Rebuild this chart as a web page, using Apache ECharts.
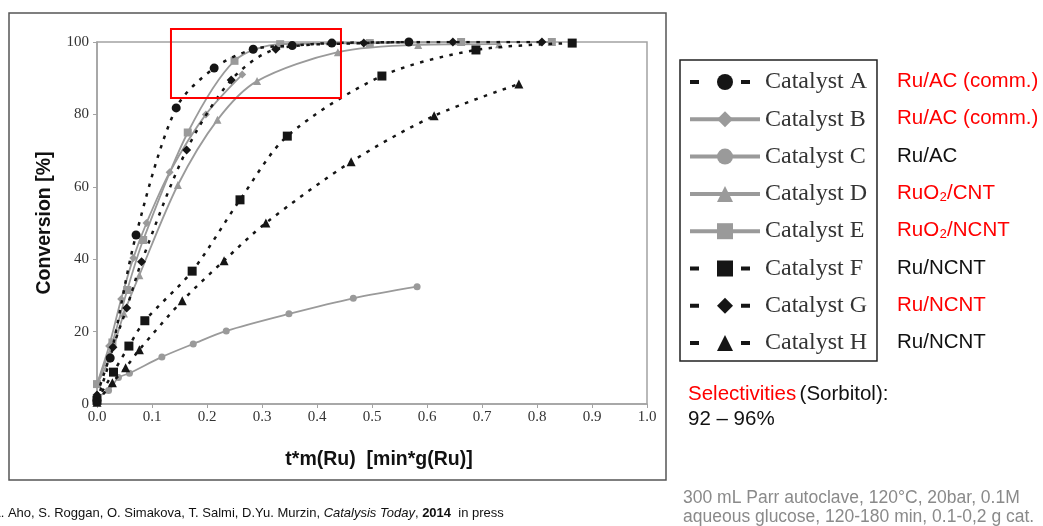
<!DOCTYPE html>
<html>
<head>
<meta charset="utf-8">
<script src="https://cdn.jsdelivr.net/npm/echarts@6/dist/echarts.min.js"></script>
<style>
  html, body { margin: 0; padding: 0; background: #fff; }
  #chart { width: 1043px; height: 526px; }
</style>
</head>
<body>
<div id="chart"></div>
<script>
// data: [t*m(Ru), conversion %]
const catalystA = [[0, 1], [0.024, 12.7], [0.071, 46.7], [0.144, 81.8], [0.213, 92.8], [0.284, 98], [0.355, 99], [0.427, 99.7], [0.567, 100]];
const catalystB = [[0, 5.5], [0.022, 16], [0.044, 29], [0.066, 40.3], [0.09, 50], [0.132, 64], [0.198, 80], [0.264, 91]];
const catalystC = [[0, 2], [0.021, 3.7], [0.039, 7.3], [0.059, 8.5], [0.118, 13], [0.175, 16.6], [0.235, 20.2], [0.349, 24.9], [0.466, 29.2], [0.582, 32.4]];
const catalystD = [[0, 5.5], [0.024, 13], [0.049, 25], [0.077, 35.6], [0.147, 60.5], [0.219, 78.5], [0.291, 89.2], [0.438, 97.2], [0.584, 99.2], [0.731, 99.4]];
const catalystE = [[0, 5.5], [0.028, 17], [0.055, 31.5], [0.084, 45.3], [0.165, 75], [0.25, 94.8], [0.333, 99.4], [0.496, 99.7], [0.662, 100], [0.827, 100]];
const catalystF = [[0, 1], [0.03, 8.8], [0.058, 16], [0.087, 23], [0.173, 36.7], [0.26, 56.4], [0.346, 74], [0.518, 90.6], [0.689, 97.8], [0.864, 99.7]];
const catalystG = [[0, 2.5], [0.029, 15.7], [0.054, 26.5], [0.081, 39.3], [0.163, 70.2], [0.244, 89.5], [0.325, 98], [0.485, 99.7], [0.647, 100], [0.809, 100]];
const catalystH = [[0, 0.5], [0.028, 5.9], [0.052, 10], [0.077, 15], [0.155, 28.5], [0.231, 39.6], [0.307, 50], [0.462, 66.9], [0.613, 79.6], [0.767, 88.4]];

const names = ['Catalyst A', 'Catalyst B', 'Catalyst C', 'Catalyst D', 'Catalyst E', 'Catalyst F', 'Catalyst G', 'Catalyst H'];
const materials = ['Ru/AC (comm.)', 'Ru/AC (comm.)', 'Ru/AC', 'RuO₂/CNT', 'RuO₂/NCNT', 'Ru/NCNT', 'Ru/NCNT', 'Ru/NCNT'];
const materialRed = [true, true, false, true, true, false, true, false];
const xTicks = ['0.0', '0.1', '0.2', '0.3', '0.4', '0.5', '0.6', '0.7', '0.8', '0.9', '1.0'];
// highlighted region (data coords)
const zoomBox = { x0: 0.1345, x1: 0.4436, y0: 84.5, y1: 103.6 };

const BLACK = '#151515';
const GRAY = '#9a9a9a';
const SANS = '"Liberation Sans", Arial, sans-serif';

const styles = [
  { data: catalystA, symbol: 'circle', size: 9, color: BLACK, dotted: true },
  { data: catalystB, symbol: 'diamond', size: 8, color: GRAY, dotted: false },
  { data: catalystC, symbol: 'circle', size: 7, color: GRAY, dotted: false },
  { data: catalystD, symbol: 'triangle', size: 8, color: GRAY, dotted: false },
  { data: catalystE, symbol: 'rect', size: 8, color: GRAY, dotted: false },
  { data: catalystF, symbol: 'rect', size: 9, color: BLACK, dotted: true },
  { data: catalystG, symbol: 'diamond', size: 9, color: BLACK, dotted: true },
  { data: catalystH, symbol: 'triangle', size: 9, color: BLACK, dotted: true }
];

const chart = echarts.init(document.getElementById('chart'));

const series = styles.map((s, i) => ({
  name: names[i],
  type: 'line',
  data: s.data,
  smooth: 0.3,
  symbol: s.symbol,
  symbolSize: s.size,
  showAllSymbol: true,
  itemStyle: { color: s.color },
  lineStyle: s.dotted
    ? { color: s.color, width: 2.5, type: [3.5, 6.5] }
    : { color: s.color, width: 1.8 },
  emphasis: { disabled: true },
  z: s.dotted ? 3 : 2
}));

const legendData = styles.map((s, i) => ({
  name: names[i],
  itemStyle: { color: s.color },
  lineStyle: s.dotted
    ? { color: s.color, width: 4, type: [9, 42] }
    : { color: s.color, width: 4, type: 'solid' }
}));

const option = {
  animation: false,
  backgroundColor: '#fff',
  grid: {
    left: 97, top: 42, right: 396, bottom: 122,
    show: true, borderColor: '#a3a3a3', borderWidth: 1.5
  },
  xAxis: {
    type: 'value', min: 0, max: 1, interval: 0.1,
    name: 't*m(Ru)  [min*g(Ru)]',
    nameLocation: 'middle', nameGap: 46,
    nameTextStyle: { fontFamily: 'Liberation Sans', fontWeight: 'bold', fontSize: 19.5, color: '#111', padding: [0, 0, 0, 14] },
    axisLine: { lineStyle: { color: '#a3a3a3', width: 1.5 } },
    axisTick: { inside: false, length: 4, lineStyle: { color: '#a3a3a3' } },
    axisLabel: {
      margin: 6, fontFamily: 'Liberation Serif', fontSize: 15, color: '#333',
      formatter: v => xTicks[Math.round(v * 10)]
    },
    splitLine: { show: false }
  },
  yAxis: {
    type: 'value', min: 0, max: 100, interval: 20,
    name: 'Conversion [%]',
    nameLocation: 'middle', nameGap: 42, nameRotate: 90,
    nameTextStyle: { fontFamily: 'Liberation Sans', fontWeight: 'bold', fontSize: 19.5, color: '#111' },
    axisLine: { show: true, lineStyle: { color: '#a3a3a3', width: 1.5 } },
    axisTick: { show: true, inside: false, length: 4, lineStyle: { color: '#a3a3a3' } },
    axisLabel: { margin: 8, fontFamily: 'Liberation Serif', fontSize: 15, color: '#333' },
    splitLine: { show: false }
  },
  legend: {
    orient: 'vertical', left: 680, top: 60,
    padding: [10, 10, 6, 8],
    itemWidth: 70, itemHeight: 20, itemGap: 13.3,
    borderColor: '#222', borderWidth: 1.5,
    selectedMode: false,
    textStyle: { fontFamily: 'Liberation Serif', fontSize: 24, color: '#333' },
    data: legendData
  },
  series: series
};

chart.setOption(option);

// side labels, notes, frame and highlight box
const graphics = [];
graphics.push({
  type: 'rect', silent: true, z: 0,
  shape: { x: 9, y: 13, width: 657, height: 467 },
  style: { fill: 'none', stroke: '#555', lineWidth: 1.5 }
});
materials.forEach((m, i) => {
  graphics.push({
    type: 'text', silent: true,
    left: 897, top: 71 + i * 37.3,
    style: {
      text: m, font: '20.5px ' + SANS,
      fill: materialRed[i] ? '#f00' : '#111'
    }
  });
});
graphics.push({
  type: 'text', silent: true, left: 688, top: 384,
  style: {
    text: '{r|Selectivities} {b|(Sorbitol):}\n{b|92 – 96%}',
    rich: {
      r: { font: '20.5px ' + SANS, fill: '#f00', lineHeight: 25 },
      b: { font: '20.5px ' + SANS, fill: '#111', lineHeight: 25 }
    }
  }
});
graphics.push({
  type: 'text', silent: true, left: 683, top: 488,
  style: {
    text: '300 mL Parr autoclave, 120°C, 20bar, 0.1M\naqueous glucose, 120-180 min, 0.1-0,2 g cat.',
    font: '17.5px ' + SANS, fill: '#8a8a8a', lineHeight: 19.5
  }
});
graphics.push({
  type: 'text', silent: true, left: -8, top: 507,
  style: {
    text: '{n|A. Aho, S. Roggan, O. Simakova, T. Salmi, D.Yu. Murzin, }{i|Catalysis Today}{n|, }{b|2014}{n|  in press}',
    rich: {
      n: { font: '13px ' + SANS, fill: '#111' },
      i: { font: 'italic 13px ' + SANS, fill: '#111' },
      b: { font: 'bold 13px ' + SANS, fill: '#111' }
    }
  }
});
const p0 = chart.convertToPixel({ gridIndex: 0 }, [zoomBox.x0, zoomBox.y1]);
const p1 = chart.convertToPixel({ gridIndex: 0 }, [zoomBox.x1, zoomBox.y0]);
graphics.push({
  type: 'rect', silent: true, z: 10,
  shape: { x: p0[0], y: p0[1], width: p1[0] - p0[0], height: p1[1] - p0[1] },
  style: { fill: 'none', stroke: '#f00', lineWidth: 2 }
});

chart.setOption({ graphic: graphics });
window.addEventListener('resize', () => chart.resize());
</script>
</body>
</html>
